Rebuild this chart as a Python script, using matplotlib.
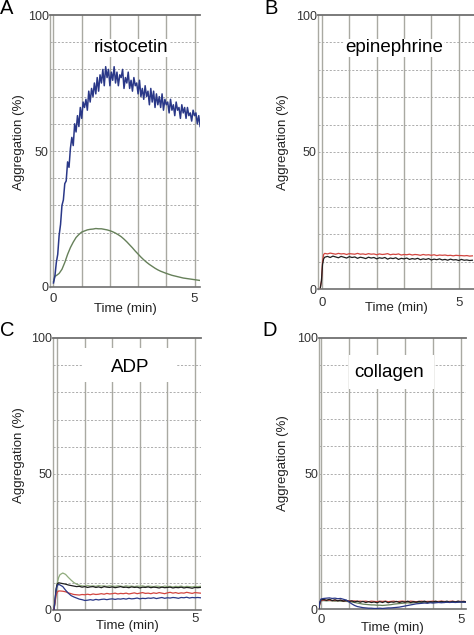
import numpy as np
import matplotlib
matplotlib.use("Agg")
import matplotlib.pyplot as plt
from matplotlib.patches import Rectangle

plt.rcParams['font.family'] = ['Liberation Sans', 'DejaVu Sans']

# ---------------- data ----------------
# Panel A: ristocetin
A_T_BLUE = np.round(np.arange(0, 5.21, 0.05), 2)
A_BLUE = [1.5, 4, 9, 12, 19, 23, 30, 32, 38, 39,
          46, 44, 51, 55, 52, 60, 57, 63, 59, 66,
          62, 68, 66, 69, 65, 72, 68, 73, 70, 75,
          71, 77, 72, 78, 75, 80, 74, 81, 77, 80,
          74, 79, 76, 81, 75, 79, 74, 78, 77, 80,
          73, 77, 75, 79, 73, 76, 72, 77, 74, 75,
          71, 76, 70, 73, 69, 74, 70, 72, 67, 73,
          68, 72, 66, 71, 67, 70, 66, 71, 65, 69,
          67, 68, 64, 69, 65, 67, 63, 68, 65, 66,
          62, 67, 64, 66, 62, 66, 63, 64, 61, 65,
          63, 64, 60, 63, 59]
A_T_GREEN = [0, 0.05, 0.1, 0.2, 0.3, 0.4, 0.5, 0.6, 0.7, 0.8, 0.9, 1.0,
             1.1, 1.2, 1.3, 1.4, 1.5, 1.6, 1.7, 1.8, 1.9, 2.0, 2.1, 2.2,
             2.3, 2.4, 2.5, 2.6, 2.7, 2.8, 2.9, 3.0, 3.1, 3.2, 3.3, 3.4,
             3.5, 3.6, 3.7, 3.8, 3.9, 4.0, 4.2, 4.4, 4.6, 4.8, 5.0, 5.2]
A_GREEN = [2, 4, 4.2, 5, 6.5, 9, 12, 14.5, 16.5, 18.2, 19.3, 20.2,
           20.6, 21, 21.2, 21.3, 21.5, 21.4, 21.4, 21.2, 21, 20.7, 20.3, 19.8,
           19.2, 18.5, 17.6, 16.6, 15.5, 14.4, 13.2, 12.1, 11.0, 10.0, 9.1, 8.3,
           7.6, 6.9, 6.3, 5.8, 5.4, 5.0, 4.3, 3.8, 3.3, 3.0, 2.7, 2.4]

# Panel B: epinephrine
B_T_RISE = [-0.06, -0.02, 0.02, 0.06]
B_T = np.round(np.arange(0.1, 5.51, 0.1), 2)
B_RED_RISE = [0.5, 3, 10, 12.6]
B_RED = [13.0, 12.8, 13.1, 12.9, 12.7, 13.0, 12.8, 12.9, 12.6, 12.9,
         12.8, 12.7, 13.0, 12.7, 12.8, 12.6, 12.9, 12.7, 12.8, 12.5,
         12.8, 12.6, 12.7, 12.9, 12.5, 12.7, 12.6, 12.8, 12.4, 12.6,
         12.5, 12.7, 12.4, 12.6, 12.5, 12.3, 12.6, 12.4, 12.5, 12.3,
         12.5, 12.2, 12.4, 12.3, 12.4, 12.2, 12.3, 12.1, 12.3, 12.2,
         12.2, 12.1, 12.2, 12.0, 12.1]
B_BLACK_RISE = [0.5, 3, 9, 11.0]
B_BLACK = [11.6, 11.9, 11.5, 12.0, 11.7, 11.4, 11.9, 11.6, 11.3, 11.8,
           11.5, 11.7, 11.2, 11.6, 11.4, 11.1, 11.6, 11.3, 11.5, 11.0,
           11.4, 11.2, 11.5, 10.9, 11.3, 11.1, 11.4, 10.8, 11.2, 11.0,
           11.3, 10.8, 11.1, 10.9, 11.2, 10.7, 11.0, 10.8, 11.1, 10.6,
           10.9, 10.7, 11.0, 10.6, 10.8, 10.5, 10.9, 10.6, 10.7, 10.4,
           10.8, 10.5, 10.6, 10.4, 10.5]

# Panel C: ADP
C_T_RISE = [-0.12, -0.08, -0.04, 0.0, 0.05]
C_T = np.round(np.arange(0.1, 5.21, 0.1), 2)
C_GREEN_RISE = [0, 3, 7, 10, 12]
C_GREEN = [13.0, 13.6, 13.1, 12.0, 11.0, 10.1, 9.5, 9.1, 8.9, 8.8,
           9.0, 8.8, 8.9, 8.7, 9.0, 8.8, 8.9, 8.7, 8.9, 8.8,
           8.7, 8.9, 8.8, 8.6, 8.9, 8.7, 8.8, 8.6, 8.8, 8.7,
           8.9, 8.6, 8.8, 8.7, 8.6, 8.8, 8.7, 8.5, 8.8, 8.6,
           8.7, 8.5, 8.7, 8.6, 8.8, 8.5, 8.7, 8.6, 8.5, 8.7, 8.6, 8.7]
C_BLACK_RISE = [0, 4, 8, 9.6, 10]
C_BLACK = [9.9, 9.7, 9.5, 9.2, 9.0, 8.8, 8.6, 8.7, 8.4, 8.6,
           8.3, 8.5, 8.6, 8.3, 8.5, 8.2, 8.6, 8.4, 8.3, 8.5,
           8.2, 8.4, 8.6, 8.3, 8.4, 8.2, 8.5, 8.3, 8.4, 8.1,
           8.4, 8.3, 8.5, 8.2, 8.4, 8.3, 8.1, 8.4, 8.2, 8.3,
           8.4, 8.1, 8.3, 8.2, 8.4, 8.1, 8.3, 8.2, 8.0, 8.3, 8.2, 8.3]
C_RED_RISE = [0, 3, 5.5, 6.6, 7.0]
C_RED = [7.0, 6.9, 6.7, 6.3, 6.0, 5.7, 5.6, 5.5, 5.7, 5.6,
         5.8, 5.6, 5.9, 5.7, 5.8, 6.0, 5.8, 6.1, 5.9, 6.0,
         6.2, 5.9, 6.1, 6.0, 6.2, 5.9, 6.1, 6.3, 6.0, 6.2,
         6.4, 6.1, 6.2, 6.0, 6.3, 6.1, 6.4, 6.2, 6.0, 6.3,
         6.5, 6.2, 6.4, 6.1, 6.3, 6.2, 6.5, 6.3, 6.1, 6.4, 6.3, 6.2]
C_BLUE_RISE = [0, 4, 7.5, 9.0, 9.4]
C_BLUE = [9.2, 8.6, 7.3, 6.2, 5.3, 4.8, 4.4, 4.0, 3.8, 3.5,
          3.6, 3.8, 3.6, 3.9, 3.7, 3.9, 4.0, 3.8, 4.0, 4.1,
          3.9, 4.1, 4.0, 4.2, 4.0, 4.3, 4.1, 4.2, 4.4, 4.1,
          4.3, 4.2, 4.4, 4.3, 4.5, 4.2, 4.4, 4.6, 4.3, 4.5,
          4.4, 4.6, 4.5, 4.3, 4.6, 4.5, 4.7, 4.4, 4.6, 4.5, 4.6, 4.5]

# Panel D: collagen
D_T_RISE = [-0.08, -0.04, 0.0]
D_T = np.round(np.arange(0.1, 5.21, 0.1), 2)
D_BLUE_RISE = [0, 2.5, 3.7]
D_BLUE = [3.9, 4.0, 4.1, 3.9, 4.0, 3.8, 3.9, 3.6, 3.3, 2.6,
          1.9, 1.3, 0.9, 0.7, 0.5, 0.4, 0.3, 0.3, 0.2, 0.2,
          0.3, 0.2, 0.3, 0.4, 0.4, 0.5, 0.6, 0.7, 0.9, 1.1,
          1.3, 1.5, 1.7, 1.9, 2.0, 2.1, 2.2, 2.1, 2.3, 2.2,
          2.3, 2.4, 2.3, 2.4, 2.5, 2.4, 2.5, 2.4, 2.5, 2.6, 2.5, 2.5]
D_RED_RISE = [0, 2, 3.2]
D_RED = [3.3, 3.2, 3.3, 3.1, 3.2, 3.1, 3.2, 3.0, 3.1, 3.0,
         2.9, 3.0, 2.8, 2.9, 2.8, 2.9, 2.7, 2.9, 2.8, 2.7,
         2.9, 2.8, 2.9, 2.7, 2.8, 2.9, 2.7, 2.8, 2.9, 2.8,
         2.7, 2.9, 2.8, 2.7, 2.8, 2.9, 2.7, 2.8, 2.8, 2.9,
         2.7, 2.8, 2.9, 2.8, 2.7, 2.8, 2.9, 2.7, 2.8, 2.8, 2.8, 2.7]
D_BLACK_RISE = [0, 2.4, 3.4]
D_BLACK = [3.5, 3.2, 3.6, 3.1, 3.4, 3.0, 3.3, 2.9, 3.2, 2.8,
           3.0, 2.6, 2.9, 2.5, 2.8, 2.4, 2.7, 2.4, 2.6, 2.3,
           2.7, 2.4, 2.8, 2.3, 2.6, 2.5, 2.8, 2.4, 2.7, 2.5,
           2.9, 2.4, 2.7, 2.5, 2.8, 2.6, 2.9, 2.5, 2.7, 2.6,
           2.9, 2.5, 2.8, 2.6, 2.9, 2.5, 2.8, 2.6, 2.9, 2.6, 2.8, 2.6]
D_GREEN_RISE = [0, 2, 3.0]
D_GREEN = [3.1, 3.0, 3.1, 3.0, 2.9, 3.0, 2.9, 2.8, 2.8, 2.7,
           2.6, 2.4, 2.2, 2.0, 1.8, 1.7, 1.6, 1.5, 1.5, 1.4,
           1.4, 1.3, 1.4, 1.5, 1.6, 1.8, 1.9, 2.0, 2.1, 2.2,
           2.3, 2.2, 2.3, 2.4, 2.3, 2.4, 2.5, 2.4, 2.5, 2.4,
           2.5, 2.6, 2.5, 2.4, 2.5, 2.6, 2.5, 2.6, 2.5, 2.6, 2.5, 2.6]

TITLES = ["ristocetin", "epinephrine", "ADP", "collagen"]
LETTERS = ["A", "B", "C", "D"]
YTICKS = [0, 50, 100]
XTICKS = [0, 5]
HGRID = [10, 20, 30, 40, 50, 60, 70, 80, 90]
VGRID = [0, 1, 2, 3, 4, 5]

BLUE = "#2a3888"
GREEN = "#66805a"
LGREEN = "#8fab7c"
RED = "#d2453f"
BLACK = "#1e1e1e"
GRID_V = "#a9a9a2"
GRID_H = "#a0a0a0"

W, H = 474, 635
fig = plt.figure(figsize=(W / 100, H / 100), dpi=100)


def px_axes(left, right, top, bottom):
    return fig.add_axes([left / W, 1 - bottom / H, (right - left) / W, (bottom - top) / H])


def style(ax, xlim, tick_pad, lab_off, ylab_xy):
    ax.set_xlim(*xlim)
    ax.set_ylim(0, 100)
    for y in HGRID:
        ax.axhline(y, color=GRID_H, lw=0.6, ls=(0, (2.5, 2)), zorder=1)
    for x in VGRID:
        ax.axvline(x, color=GRID_V, lw=1.0, zorder=1)
    ax.spines['right'].set_visible(False)
    ax.spines['top'].set_color('#707070')
    ax.spines['top'].set_linewidth(1.3)
    ax.spines['bottom'].set_color('#707070')
    ax.spines['bottom'].set_linewidth(1.2)
    ax.spines['left'].set_color(GRID_V)
    ax.spines['left'].set_linewidth(1.0)
    ax.set_yticks(YTICKS)
    ax.set_yticklabels([str(v) for v in YTICKS])
    ax.set_xticks(XTICKS)
    ax.set_xticklabels([str(v) for v in XTICKS])
    ax.tick_params(axis='y', length=0, pad=1, labelsize=9, labelcolor='#333333')
    ax.tick_params(axis='x', length=0, pad=tick_pad, labelsize=9.5, labelcolor='#333333')
    ax.set_xlabel("Time (min)", fontsize=9.5, color='#222222')
    ax.xaxis.set_label_coords(0.5, lab_off)
    ax.set_ylabel("Aggregation (%)", fontsize=9.5, color='#222222')
    ax.yaxis.set_label_coords(*ylab_xy)
    ax.set_facecolor('white')


# Panel A
axA = px_axes(50, 200, 15, 287)
style(axA, (-0.124, 5.195), 4.5, -0.06, (-0.167, 0.533))
axA.plot(A_T_GREEN, A_GREEN, color=GREEN, lw=1.0, zorder=3)
axA.plot(A_T_BLUE, A_BLUE, color=BLUE, lw=1.1, zorder=3)
axA.text(2.75, 87.9, TITLES[0], ha='center', va='center', fontsize=13.5, zorder=5,
         bbox=dict(facecolor='white', edgecolor='none', pad=0.5))

# Panel B
axB = px_axes(318, 474, 15, 289)
style(axB, (-0.146, 5.56), 6.0, -0.048, (-0.186, 0.536))
axB.plot(B_T_RISE + list(B_T), B_RED_RISE + B_RED, color=RED, lw=0.9, zorder=3)
axB.plot(B_T_RISE + list(B_T), B_BLACK_RISE + B_BLACK, color=BLACK, lw=0.9, zorder=3)
axB.text(2.63, 88, TITLES[1], ha='center', va='center', fontsize=13.5, zorder=5,
         bbox=dict(facecolor='white', edgecolor='none', pad=0.5))

# Panel C
axC = px_axes(53.3, 201, 338, 610)
style(axC, (-0.145, 5.22), 2.3, -0.036, (-0.19, 0.57))
axC.add_patch(Rectangle((0.92, 84), 3.41, 12.3, facecolor='white', edgecolor='none', zorder=2))
axC.plot(C_T_RISE + list(C_T), C_GREEN_RISE + C_GREEN, color=LGREEN, lw=0.9, zorder=3)
axC.plot(C_T_RISE + list(C_T), C_BLACK_RISE + C_BLACK, color=BLACK, lw=0.9, zorder=3)
axC.plot(C_T_RISE + list(C_T), C_RED_RISE + C_RED, color=RED, lw=0.9, zorder=3)
axC.plot(C_T_RISE + list(C_T), C_BLUE_RISE + C_BLUE, color=BLUE, lw=0.9, zorder=3)
axC.text(2.64, 89, TITLES[2], ha='center', va='center', fontsize=13.5, zorder=5)

# Panel D
axD = px_axes(319.3, 466, 338, 609)
style(axD, (-0.06, 5.18), 3.5, -0.047, (-0.207, 0.539))
axD.add_patch(Rectangle((0.99, 81.3), 3.06, 12.3, facecolor='white', edgecolor='none', zorder=2))
axD.plot(D_T_RISE + list(D_T), D_GREEN_RISE + D_GREEN, color=GREEN, lw=0.9, zorder=3)
axD.plot(D_T_RISE + list(D_T), D_RED_RISE + D_RED, color=RED, lw=0.9, zorder=3)
axD.plot(D_T_RISE + list(D_T), D_BLACK_RISE + D_BLACK, color=BLACK, lw=0.9, zorder=3)
axD.plot(D_T_RISE + list(D_T), D_BLUE_RISE + D_BLUE, color=BLUE, lw=0.9, zorder=3)
axD.text(2.43, 87.1, TITLES[3], ha='center', va='center', fontsize=13.5, zorder=5)

# Panel letters
for letter, (px, py) in zip(LETTERS, [(0, 8), (264, 9), (0, 330), (262, 331)]):
    fig.text(px / W, 1 - py / H, letter, fontsize=14.5, ha='left', va='center')

fig.savefig("out.png", dpi=100, facecolor='white')
